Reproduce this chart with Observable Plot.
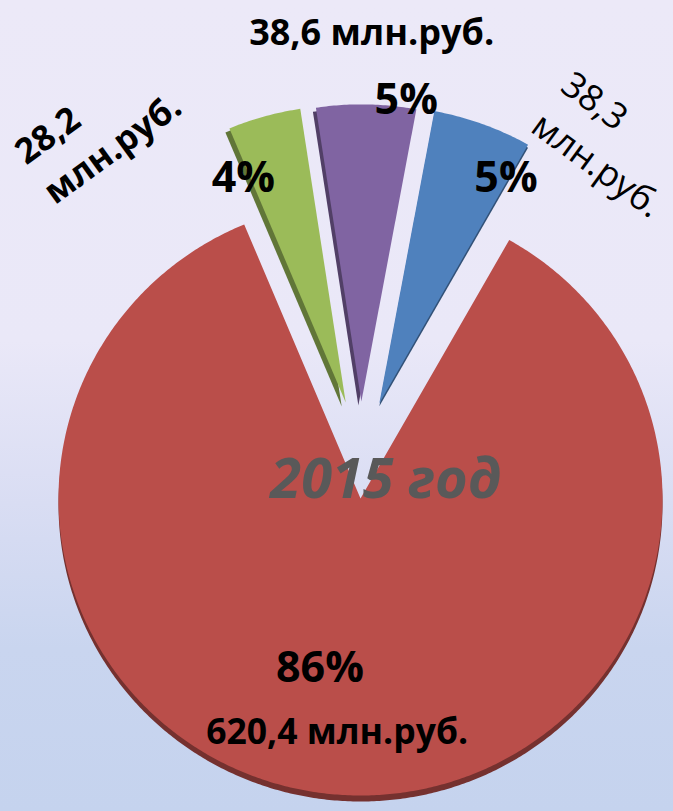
<!DOCTYPE html>
<html>
<head>
<meta charset="utf-8">
<script src="https://cdn.jsdelivr.net/npm/d3@7"></script>
<script src="https://cdn.jsdelivr.net/npm/@observablehq/plot@0.6"></script>
<style>
  html, body { margin: 0; padding: 0; width: 673px; height: 811px; overflow: hidden; }
  body { background: linear-gradient(180deg, #ECE9F8 0%, #EAE8F8 42%, #D9DDF3 62%, #C9D5EF 80%, #C5D3EE 100%); }
  #chart svg { display: block; background: none; }
</style>
</head>
<body>
<div id="chart"></div>
<script>
// ---- data ----
const categories = ["Сектор 1", "Сектор 2", "Сектор 3", "Сектор 4"];
const values = [620.4, 28.2, 38.6, 38.3];
const colors = ["#BA4E4A", "#9BBB59", "#8064A2", "#4F81BD"];
const unitLabel = "млн.руб.";
const chartTitle = "2015 год";

// ---- layout / style ----
const W = 673, H = 811;
const Rx = 302, Ry = 297;  // pixels per unit radius (slight 3D tilt)
const cx = 360, cy = 498;  // pie centre in pixels
const startAngle = 29.5;   // degrees, clockwise from 12 o'clock
const explode = [0, 0.327, 0.327, 0.327];
const explodeTurn = 0.55;
const shadowOffset = [[0, 6], [-4, 4], [-3, 4], [0, 3]];
const pctPos = [[0.588, 193.2], [1.145, -19.8], [1.348, 6.45], [1.18, 24.1]];
const valPos = [[0.778, 185.7], [1.546, -44.8], [1.583, 1.34], [1.494, 25.3]];
const valRotate = [0, -36, 0, 36];
const valAnchor = ["middle", "start", "middle", "start"];
const valTwoLines = [false, true, false, true];
const valWeight = ["bold", "bold", "bold", "normal"];
const valSize = [35.5, 35, 36, 36];
const titlePos = [0.104, 54];

const rad = d => d * Math.PI / 180;
const polar = ([r, a]) => ({x: r * Math.sin(rad(a)), y: r * Math.cos(rad(a))});
const total = d3.sum(values);

let acc = startAngle;
const slices = values.map((v, i) => {
  const span = v / total * 360;
  const s = {key: categories[i], value: v, a0: acc, a1: acc + span, color: colors[i], i};
  acc += span;
  let mid = (s.a0 + s.a1) / 2;
  mid = ((mid + 180) % 360 + 360) % 360 - 180;
  const ea = mid * explodeTurn;
  s.ox = explode[i] * Math.sin(rad(ea));
  s.oy = explode[i] * Math.cos(rad(ea));
  return s;
});

function slicePoints(s) {
  const pts = [{key: s.key, x: s.ox, y: s.oy}];
  const n = Math.max(2, Math.ceil((s.a1 - s.a0) / 0.5));
  for (let k = 0; k <= n; k++) {
    const t = rad(s.a0 + (s.a1 - s.a0) * k / n);
    pts.push({key: s.key, x: s.ox + Math.sin(t), y: s.oy + Math.cos(t)});
  }
  pts.push({key: s.key, x: s.ox, y: s.oy});
  return pts;
}

const fmt = v => v.toFixed(1).replace(".", ",");
const pctData = slices.map((s, i) => ({...polar(pctPos[i]), text: Math.round(s.value / total * 100) + "%"}));
const valData = slices.map((s, i) => ({
  ...polar(valPos[i]),
  text: fmt(s.value) + (valTwoLines[i] ? "\n" : " ") + unitLabel,
  rotate: valRotate[i], anchor: valAnchor[i], weight: valWeight[i], size: valSize[i]
}));

const font = "'Open Sans', 'DejaVu Sans', sans-serif";
const marks = [];
slices.forEach((s, i) => {
  marks.push(Plot.line(slicePoints(s), {
    x: "x", y: "y", fill: d3.color(s.color).darker(1.3).formatHex(), stroke: "none",
    dx: shadowOffset[i][0], dy: shadowOffset[i][1]
  }));
});
slices.forEach((s) => {
  marks.push(Plot.line(slicePoints(s), {x: "x", y: "y", fill: s.color, stroke: "none"}));
});
marks.push(Plot.text([{...polar(titlePos), text: chartTitle}], {
  x: "x", y: "y", text: "text", fontSize: 56, fontWeight: "bold", fontStyle: "italic",
  fill: "#595959", fontFamily: font
}));
marks.push(Plot.text(pctData, {x: "x", y: "y", text: "text", fontSize: 43, fontWeight: "bold", fill: "#000", fontFamily: font}));
valData.forEach(d => {
  marks.push(Plot.text([d], {
    x: "x", y: "y", text: "text", rotate: "rotate", textAnchor: d.anchor,
    fontSize: d.size, fontWeight: d.weight, lineHeight: 1.4,
    fill: "#000", fontFamily: font
  }));
});

const chart = Plot.plot({
  width: W, height: H, margin: 0,
  x: {domain: [-cx / Rx, (W - cx) / Rx], axis: null},
  y: {domain: [-(H - cy) / Ry, cy / Ry], axis: null},
  style: {background: "none", overflow: "visible"},
  marks
});
document.getElementById("chart").appendChild(chart);
</script>
</body>
</html>
